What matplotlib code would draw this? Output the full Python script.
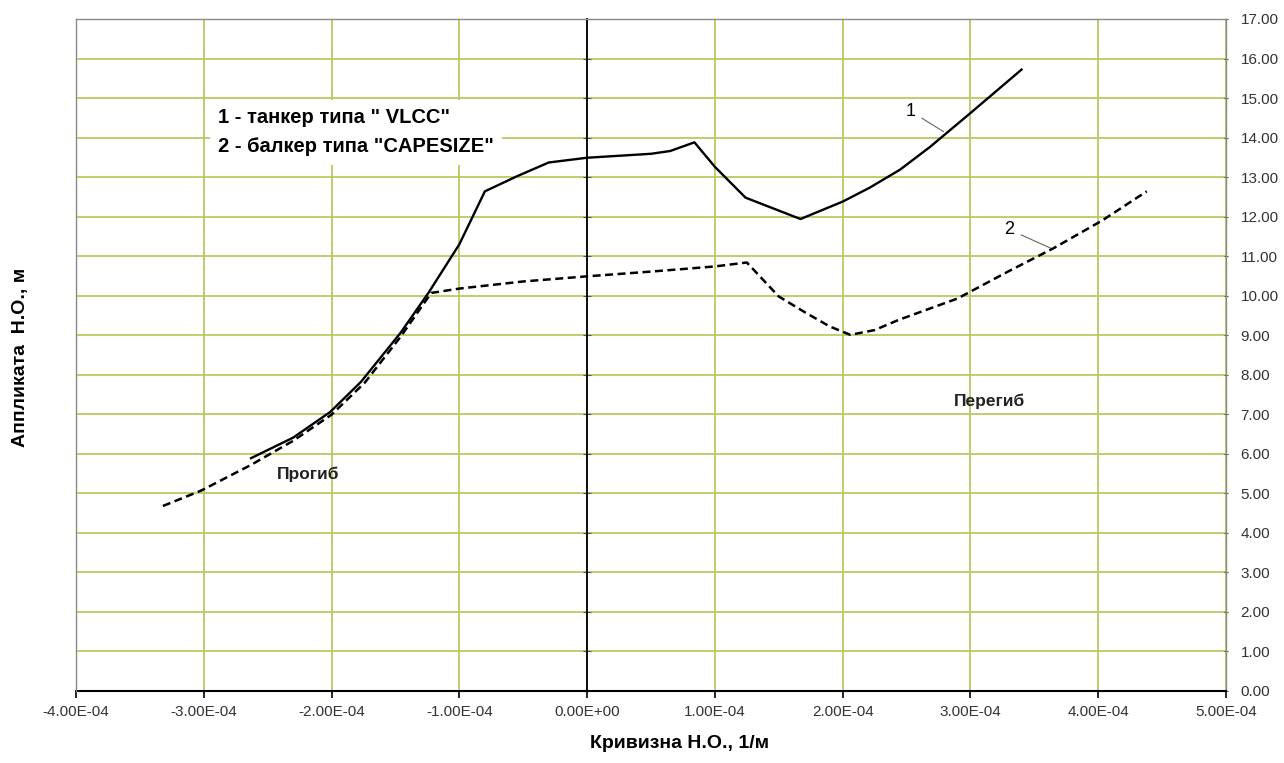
import matplotlib
matplotlib.use("Agg")
import matplotlib.pyplot as plt
import numpy as np

plt.rcParams['font.family'] = ['Liberation Sans', 'DejaVu Sans']

# кривая 1 - танкер VLCC (кривизна в единицах 1e-4 1/м, аппликата в м)
k_vlcc = [-2.63, -2.30, -2.01, -1.77, -1.46, -1.24, -1.00, -0.80, -0.55, -0.30,
          0.00, 0.50, 0.65, 0.84, 1.00, 1.24, 1.67, 2.00, 2.21, 2.45, 2.69, 3.00, 3.40]
z_vlcc = [5.89, 6.41, 7.06, 7.82, 9.06, 10.08, 11.30, 12.64, 13.02, 13.37,
          13.49, 13.59, 13.66, 13.88, 13.26, 12.48, 11.94, 12.38, 12.73, 13.19, 13.78, 14.62, 15.72]

# кривая 2 - балкер CAPESIZE
k_cape = [-3.32, -3.02, -2.63, -2.30, -2.00, -1.74, -1.46, -1.22, -1.00, -0.50,
          0.00, 0.50, 0.77, 1.00, 1.25, 1.50, 1.71, 1.90, 2.06, 2.25, 2.44, 2.90,
          3.30, 3.65, 4.03, 4.38]
z_cape = [4.68, 5.07, 5.72, 6.33, 6.99, 7.80, 8.96, 10.07, 10.18, 10.36,
          10.49, 10.61, 10.68, 10.74, 10.84, 9.98, 9.57, 9.22, 9.01, 9.13, 9.39, 9.93,
          10.62, 11.20, 11.90, 12.64]

x_ticks = np.arange(-4, 6) * 1e-4
y_ticks = np.arange(0, 18)

legend_text = '1 - танкер типа " VLCC"\n2 - балкер типа "CAPESIZE"'

fig = plt.figure(figsize=(12.84, 7.63), dpi=100)
ax = fig.add_axes([0.0592, 0.0944, 0.8956, 0.8807])

k1 = np.array(k_vlcc) * 1e-4
k2 = np.array(k_cape) * 1e-4
ax.plot(k1, z_vlcc, color='black', lw=1.7, solid_joinstyle='round', zorder=4)
ax.plot(k2, z_cape, color='black', lw=1.8, linestyle=(0, (3.2, 1.8)), zorder=4)

ax.set_xlim(-4e-4, 5e-4)
ax.set_ylim(0, 17)
ax.set_xticks(x_ticks)
ax.set_yticks(y_ticks)
ax.set_xticklabels([f'{v:.2E}' for v in x_ticks])
ax.set_yticklabels([f'{v:.2f}' for v in y_ticks])

ax.set_axisbelow(True)
ax.grid(True, color='#bcc862', lw=1.3)

# ось аппликат проходит через ноль, подписи справа
ax.spines['left'].set_position(('data', 0))
ax.spines['left'].set_color('black')
ax.spines['left'].set_linewidth(1.3)
ax.spines['bottom'].set_color('black')
ax.spines['bottom'].set_linewidth(1.5)
for s in ['top', 'right']:
    ax.spines[s].set_color('#8a8a8a')
    ax.spines[s].set_linewidth(1.0)
ax.plot([0, 0], [0, 1], transform=ax.transAxes, color='#8a8a8a', lw=1.0,
        clip_on=False, zorder=3)

ax.tick_params(axis='y', left=True, right=True, labelleft=False, labelright=True)
ax.tick_params(axis='y', which='major', length=3, pad=9, labelsize=11,
               labelcolor='#333333', color='#555555')
ax.yaxis.set_tick_params(which='major', direction='inout')
ax.tick_params(axis='x', direction='out', length=5, pad=5, labelsize=11,
               labelcolor='#333333', color='black', width=1.2)
for t in ax.yaxis.get_major_ticks():
    t.tick1line.set_color('black')
    t.tick1line.set_markersize(6)
    t.tick2line.set_color('#8a8a8a')

ax.set_xlabel('Кривизна Н.О., 1/м', fontsize=14, fontweight='bold')
ax.set_ylabel('Аппликата  Н.О., м', fontsize=14, fontweight='bold')
ax.xaxis.set_label_coords(0.525, -0.066)
ax.yaxis.set_label_coords(-0.041, 0.496)

ax.text(-2.89e-4, 14.14, legend_text, fontsize=14.5, fontweight='bold',
        ha='left', va='center', linespacing=1.7, zorder=5,
        bbox=dict(facecolor='white', edgecolor='none', pad=6))

ax.text(-2.18e-4, 5.49, 'Прогиб', fontsize=12.5, fontweight='bold',
        ha='center', va='center', color='#222222')
ax.text(3.15e-4, 7.32, 'Перегиб', fontsize=12.5, fontweight='bold',
        ha='center', va='center', color='#222222')

ax.annotate('1', xy=(2.79e-4, 14.15), xytext=(2.53e-4, 14.67), fontsize=13,
            ha='center', va='center',
            arrowprops=dict(arrowstyle='-', color='#666666', lw=0.8,
                            shrinkA=3, shrinkB=0))
ax.annotate('2', xy=(3.63e-4, 11.2), xytext=(3.306e-4, 11.67), fontsize=13,
            ha='center', va='center',
            arrowprops=dict(arrowstyle='-', color='#666666', lw=0.8,
                            shrinkA=3, shrinkB=0))

fig.savefig('out.png', dpi=100, facecolor='white')
